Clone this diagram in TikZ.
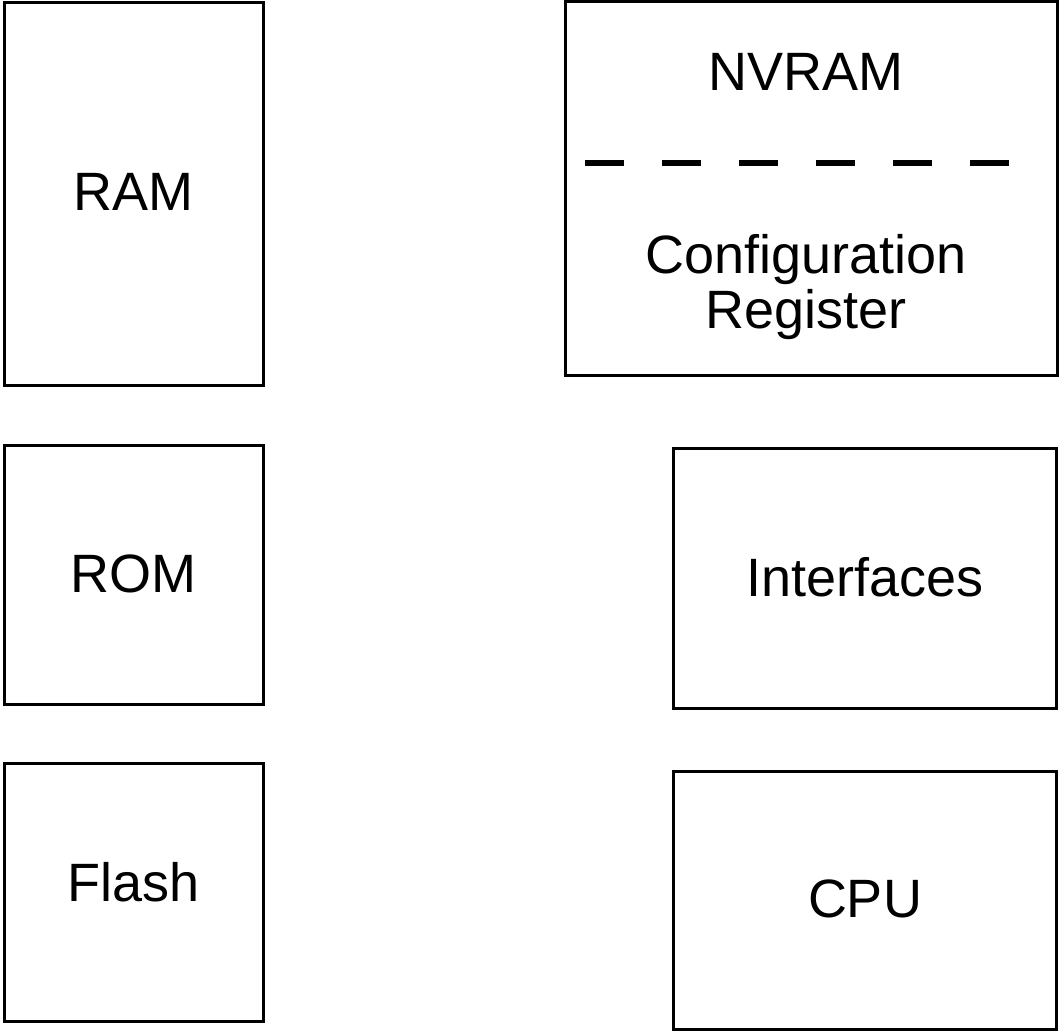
\documentclass[tikz,border=0pt]{standalone}
\usepackage{fontspec}
\setmainfont{Liberation Sans}
\begin{document}
\begin{tikzpicture}[x=1pt,y=-1pt,
  unit/.style={draw=black,line width=3pt,rectangle,inner sep=0pt,outer sep=0pt},
  lbl/.style={anchor=base,inner sep=0pt,font=\fontsize{54}{55}\selectfont,align=center}]
\useasboundingbox (0,0) rectangle (1059,1033);
% memory blocks on the left
\node[unit,minimum width=259pt,minimum height=382pt] (ram) at (133.5,194) {};
\node[unit,minimum width=259pt,minimum height=259pt] (rom) at (133.5,574.5) {};
\node[unit,minimum width=259pt,minimum height=258pt] (flash) at (133.5,892) {};
% blocks on the right
\node[unit,minimum width=492pt,minimum height=374pt] (nvram) at (811,188.5) {};
\node[unit,minimum width=383pt,minimum height=260pt] (ifc) at (864.5,578) {};
\node[unit,minimum width=383pt,minimum height=258pt] (cpu) at (864.5,900) {};
% NVRAM divider
\coordinate (divl) at (585,163);
\coordinate (divr) at (1010,163);
\draw[line width=5.5pt,dash pattern=on 39pt off 38pt] (divl) -- (divr);
% labels
\node[lbl] (tram) at (133.5,210) {RAM};
\node[lbl] (trom) at (133.5,592) {ROM};
\node[lbl] (tflash) at (133.5,901) {Flash};
\node[lbl] (tnv) at (806,90) {NVRAM};
\node[lbl] (tcfg) at (806,273) {Configuration};
\node[lbl] (treg) at (806,328) {Register};
\node[lbl] (tifc) at (865,596) {Interfaces};
\node[lbl] (tcpu) at (865,917) {CPU};
\end{tikzpicture}
\end{document}
